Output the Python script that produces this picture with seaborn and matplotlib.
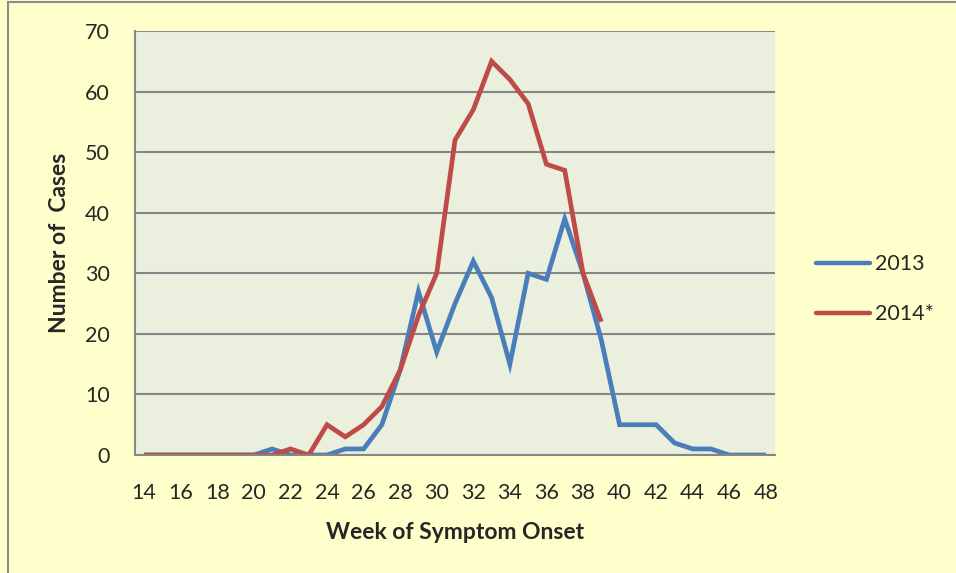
import numpy as np
import pandas as pd
import matplotlib
matplotlib.use("Agg")
import matplotlib.pyplot as plt
import seaborn as sns
from matplotlib.patches import Rectangle

# ================= DATA =================

weeks_2013 = list(range(14, 49))
cases_2013 = [0, 0, 0, 0, 0, 0, 0, 1, 0, 0, 0, 1, 1, 5, 14, 27, 17, 25,
              32, 26, 15, 30, 29, 39, 30, 19, 5, 5, 5, 2, 1, 1, 0, 0, 0]

weeks_2014 = list(range(14, 40))
cases_2014 = [0, 0, 0, 0, 0, 0, 0, 0, 1, 0, 5, 3, 5, 8, 14, 23, 30, 52,
              57, 65, 62, 58, 48, 47, 30, 22]

tick_weeks = list(range(14, 49, 2))
y_ticks = [0, 10, 20, 30, 40, 50, 60, 70]

colors = {"2013": "#4A7EBB", "2014*": "#BE4B48"}

df = pd.concat([
    pd.DataFrame({"week": weeks_2013, "cases": cases_2013, "year": "2013"}),
    pd.DataFrame({"week": weeks_2014, "cases": cases_2014, "year": "2014*"}),
])

# ================= STYLE =================

sns.set_style("white")
plt.rcParams["font.family"] = ["Lato", "DejaVu Sans"]

fig = plt.figure(figsize=(9.56, 5.73), dpi=100, facecolor="#FFFFCC")
ax = fig.add_axes([0.1412, 0.2059, 0.6695, 0.74])
ax.set_facecolor("#EBEFDE")

# chart border
fig.patches.append(Rectangle((8 / 956, -0.05), 1.1, 1 - 2 / 573 + 0.05,
                             transform=fig.transFigure, fill=False,
                             edgecolor="#8C8C8C", linewidth=1.5, zorder=0))

# ================= PLOT =================

sns.lineplot(data=df, x="week", y="cases", hue="year", palette=colors,
             linewidth=3.4, ax=ax, legend=False, sort=False)
for ln in ax.lines:
    ln.set_solid_joinstyle("miter")
    ln.set_solid_capstyle("butt")

ax.set_xlim(13.5, 48.5)
ax.set_ylim(0, 70)

ax.set_yticks(y_ticks)
ax.yaxis.grid(True, color="#868686", linewidth=1.5)
ax.set_axisbelow(True)

ax.set_xticks(tick_weeks)
ax.set_xticklabels([str(w) for w in tick_weeks])
ax.set_xticks(np.arange(13.5, 49, 1), minor=True)
ax.tick_params(axis="x", which="major", length=0, labelsize=15.5, pad=20)
ax.tick_params(axis="x", which="minor", length=6, color="#868686", width=1.2)
ax.tick_params(axis="y", length=6, color="#868686", width=1.2,
               labelsize=15.5, pad=12)

for side in ["top", "right"]:
    ax.spines[side].set_visible(False)
for side in ["left", "bottom"]:
    ax.spines[side].set_color("#868686")
    ax.spines[side].set_linewidth(1.5)

ax.set_xlabel("Week of Symptom Onset", fontsize=16.5, fontweight="bold",
              labelpad=14)
ax.set_ylabel("Number of  Cases", fontsize=16.5, fontweight="bold",
              labelpad=11)

# ================= LEGEND =================

handles = [plt.Line2D([], [], color=colors[k], linewidth=3.2,
                      solid_capstyle="round") for k in colors]
fig.legend(handles, list(colors.keys()), loc="center left",
           bbox_to_anchor=(0.833, 0.495), frameon=False, fontsize=15.5,
           handlelength=2.5, handletextpad=0.25, labelspacing=1.4)

fig.savefig("out.png", dpi=100, facecolor=fig.get_facecolor())
